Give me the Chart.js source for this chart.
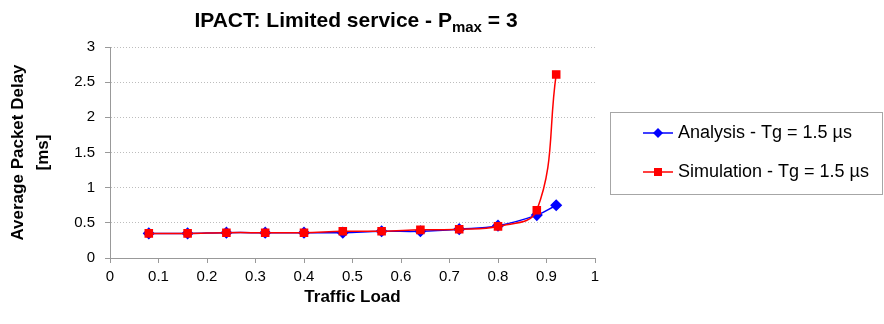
<!DOCTYPE html>
<html>
<head>
<meta charset="utf-8">
<script src="https://cdn.jsdelivr.net/npm/chart.js@4.4.1/dist/chart.umd.min.js"></script>
<style>
  body { margin: 0; background: #fff; }
  #wrap { position: relative; width: 884px; height: 324px; }
  #title {
    position: absolute; left: 0; width: 712px; top: 8px; text-align: center;
    font: bold 21px "Liberation Sans", Arial, sans-serif; color: #000;
  }
  #title sub { font-size: 15px; vertical-align: -5px; line-height: 0; }
</style>
</head>
<body>
<div id="wrap">
  <div id="title">IPACT: Limited service - P<sub>max</sub> = 3</div>
  <canvas id="delayChart" width="884" height="324"></canvas>
</div>
<script>
var loads = [0.08, 0.16, 0.24, 0.32, 0.40, 0.48, 0.56, 0.64, 0.72, 0.80, 0.88, 0.92];
var analysis = [0.35, 0.35, 0.36, 0.36, 0.36, 0.36, 0.38, 0.38, 0.41, 0.46, 0.61, 0.75];
var simulation = [0.35, 0.35, 0.36, 0.36, 0.36, 0.38, 0.38, 0.40, 0.41, 0.45, 0.68, 2.61];
var seriesNames = ["Analysis - Tg = 1.5 \u00b5s", "Simulation - Tg = 1.5 \u00b5s"];
var xTicks = ["0", "0.1", "0.2", "0.3", "0.4", "0.5", "0.6", "0.7", "0.8", "0.9", "1"];
var yTicks = ["0", "0.5", "1", "1.5", "2", "2.5", "3"];

var font = '"Liberation Sans", Arial, sans-serif';

function pairs(ys) {
  return ys.map(function (y, i) { return { x: loads[i], y: y }; });
}

// legend drawn by hand so it gets the boxed excel look
var boxLegend = {
  id: 'boxLegend',
  afterDraw: function (chart) {
    var c = chart.ctx;
    c.save();
    c.strokeStyle = '#a6a6a6';
    c.lineWidth = 1;
    c.strokeRect(610.5, 112.5, 272, 82);
    var rows = [133, 172];
    chart.data.datasets.forEach(function (ds, i) {
      var y = rows[i];
      c.strokeStyle = ds.borderColor;
      c.lineWidth = 1.5;
      c.beginPath();
      c.moveTo(643, y);
      c.lineTo(673, y);
      c.stroke();
      c.fillStyle = ds.backgroundColor;
      c.beginPath();
      if (ds.pointStyle === 'rectRot') {
        c.moveTo(658, y - 5); c.lineTo(663, y); c.lineTo(658, y + 5); c.lineTo(653, y);
      } else {
        c.rect(654, y - 4, 8, 8);
      }
      c.closePath();
      c.fill();
      c.fillStyle = '#000';
      c.font = '18px ' + font;
      c.textBaseline = 'middle';
      c.fillText(ds.label, 678, y);
    });
    c.restore();
  }
};

var ctx = document.getElementById('delayChart').getContext('2d');
var myChart = new Chart(ctx, {
  type: 'line',
  data: {
    datasets: [{
      label: seriesNames[0],
      data: pairs(analysis),
      borderColor: '#0000ff',
      backgroundColor: '#0000ff',
      borderWidth: 1.5,
      pointStyle: 'rectRot',
      pointRadius: 5,
      tension: 0.4,
      order: 1
    }, {
      label: seriesNames[1],
      data: pairs(simulation),
      borderColor: '#ff0000',
      backgroundColor: '#ff0000',
      borderWidth: 1.5,
      pointStyle: 'rect',
      pointRadius: 5,
      tension: 0.4,
      order: 0
    }]
  },
  options: {
    responsive: false,
    animation: false,
    layout: { padding: { top: 47, right: 289, left: 0, bottom: 0 } },
    plugins: { legend: { display: false }, tooltip: { enabled: false } },
    scales: {
      x: {
        type: 'linear', min: 0, max: 1,
        afterFit: function (s) { s.height = 66; },
        afterBuildTicks: function (s) {
          s.ticks = xTicks.map(function (t) { return { value: parseFloat(t) }; });
        },
        ticks: {
          color: '#000', font: { family: font, size: 15 }, padding: 5, maxRotation: 0,
          autoSkip: false,
          callback: function (v, i) { return xTicks[i]; }
        },
        grid: { drawOnChartArea: false, drawTicks: true, tickLength: 5, tickColor: '#999' },
        border: { color: '#999', width: 1 },
        title: {
          display: true, text: 'Traffic Load', color: '#000',
          font: { family: font, size: 17, weight: 'bold' }, padding: { top: 0, bottom: 16 }
        }
      },
      y: {
        min: 0, max: 3,
        afterFit: function (s) { s.width = 110; },
        afterBuildTicks: function (s) {
          s.ticks = yTicks.map(function (t) { return { value: parseFloat(t) }; });
        },
        ticks: {
          color: '#000', font: { family: font, size: 15 }, padding: 10,
          callback: function (v, i) { return yTicks[i]; }
        },
        grid: {
          color: '#bdbdbd', tickColor: '#999', tickLength: 5, tickBorderDash: [],
          drawTicks: true
        },
        border: { color: '#999', width: 1, dash: [1, 2] },
        title: {
          display: true, text: ['Average Packet Delay', '[ms]'], color: '#000',
          font: { family: font, size: 17, weight: 'bold', lineHeight: 1.45 }, padding: { top: 6, bottom: 0 }
        }
      }
    }
  },
  plugins: [boxLegend]
});
</script>
</body>
</html>
